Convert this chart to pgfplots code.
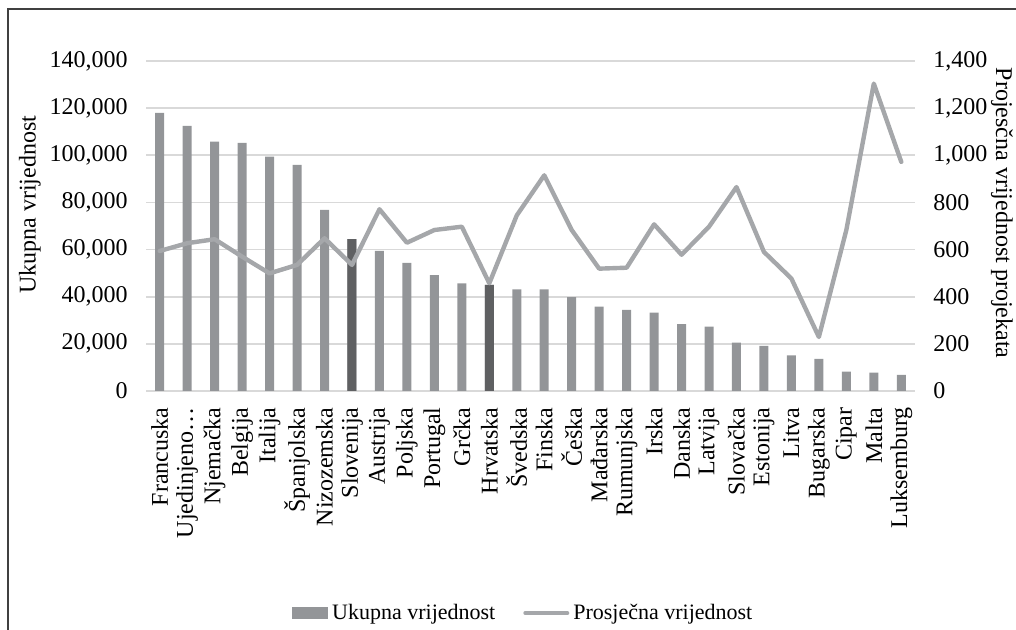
\documentclass[border=0pt]{standalone}
\usepackage{fontspec}
\setmainfont{Liberation Serif}
\usepackage{pgfplots}
\pgfplotsset{compat=1.18}

\definecolor{bargray}{HTML}{939598}
\definecolor{bardark}{HTML}{5F6062}
\definecolor{linegray}{HTML}{A5A7AA}
\definecolor{gridgray}{HTML}{D9D9D9}

\begin{document}
\begin{tikzpicture}
  % 1 px of the reference = 0.5pt
  \useasboundingbox (0,0) rectangle (508pt,315pt);
  \draw[black!75, line width=0.9pt] (4pt,0) -- (4pt,310.5pt) -- (508pt,310.5pt);

  \pgfplotsset{
    every axis/.append style={
      scale only axis,
      width=384.5pt, height=165pt,
      at={(73pt,119.5pt)}, anchor=south west,
      xmin=-0.5, xmax=27.5,
      font=\fontsize{12}{14}\selectfont,
      major tick length=0pt,
      scaled y ticks=false,
    }
  }

  \begin{axis}[
    axis y line*=left,
    axis x line*=bottom,
    y axis line style={draw=none},
    x axis line style={gridgray, line width=0.8pt},
    ymin=0, ymax=140000,
    ytick={0,20000,40000,60000,80000,100000,120000,140000},
    yticklabels={0,{20,000},{40,000},{60,000},{80,000},{100,000},{120,000},{140,000}},
    ymajorgrids,
    grid style={gridgray, line width=0.8pt},
    yticklabel style={anchor=east, inner sep=0pt, xshift=-9pt},
    ylabel={Ukupna vrijednost},
    ylabel style={at={(axis description cs:-0.151,0.564)}, anchor=center},
    xtick=data,
    xticklabels={Francuska, Ujedinjeno…, Njemačka, Belgija, Italija, Španjolska,
      Nizozemska, Slovenija, Austrija, Poljska, Portugal, Grčka, Hrvatska,
      Švedska, Finska, Češka, Mađarska, Rumunjska, Irska, Danska, Latvija,
      Slovačka, Estonija, Litva, Bugarska, Cipar, Malta, Luksemburg},
    xticklabel style={yshift=-8pt, rotate=90, anchor=east, inner sep=0pt},
    ybar, bar width=4.5pt, bar shift=0pt,
  ]
    \addplot[fill=bargray, draw=none] coordinates {
      (0,118000) (1,112500) (2,105800) (3,105300) (4,99400) (5,95900)
      (6,76800) (7,64400) (8,59400) (9,54400) (10,49200) (11,45700)
      (12,45000) (13,43100) (14,43100) (15,39800) (16,35800) (17,34400)
      (18,33200) (19,28400) (20,27300) (21,20500) (22,19100) (23,15100)
      (24,13600) (25,8200) (26,7800) (27,6800)
    };
    % Slovenija and Hrvatska are drawn darker
    \addplot[fill=bardark, draw=none] coordinates {
      (7,64400) (12,45000)
    };
  \end{axis}

  \begin{axis}[
    axis y line*=right,
    axis x line=none,
    y axis line style={draw=none},
    ymin=0, ymax=1400,
    ytick={0,200,400,600,800,1000,1200,1400},
    yticklabels={0,200,400,600,800,{1,000},{1,200},{1,400}},
    yticklabel style={anchor=west, inner sep=0pt, xshift=9pt},
    ylabel={Projesčna vrijednost projekata},
    ylabel style={at={(axis description cs:1.113,0.539)}, anchor=center, rotate=180},
    legend style={at={(axis description cs:0.492,-0.673)}, anchor=center,
      draw=none, font=\fontsize{11}{12}\selectfont, legend columns=2,
      /tikz/every even column/.append style={column sep=12pt}},
  ]
    \addlegendimage{legend image code/.code={
        \fill[bargray] (0pt,-2.6pt) rectangle (17.5pt,2.6pt);}}
    \addlegendentry{Ukupna vrijednost}
    \addplot[linegray, line width=2.2pt, line join=round, line cap=round,
      legend image code/.code={
        \draw[linegray, line width=2pt] (0pt,0pt) -- (21pt,0pt);}]
      coordinates {
      (0,594) (1,627) (2,644) (3,570) (4,499) (5,535) (6,648) (7,535)
      (8,771) (9,629) (10,683) (11,697) (12,457) (13,745) (14,915)
      (15,683) (16,519) (17,523) (18,707) (19,578) (20,697) (21,865)
      (22,590) (23,477) (24,229) (25,683) (26,1304) (27,972)
    };
    \addlegendentry{Prosječna vrijednost}
  \end{axis}
\end{tikzpicture}
\end{document}
